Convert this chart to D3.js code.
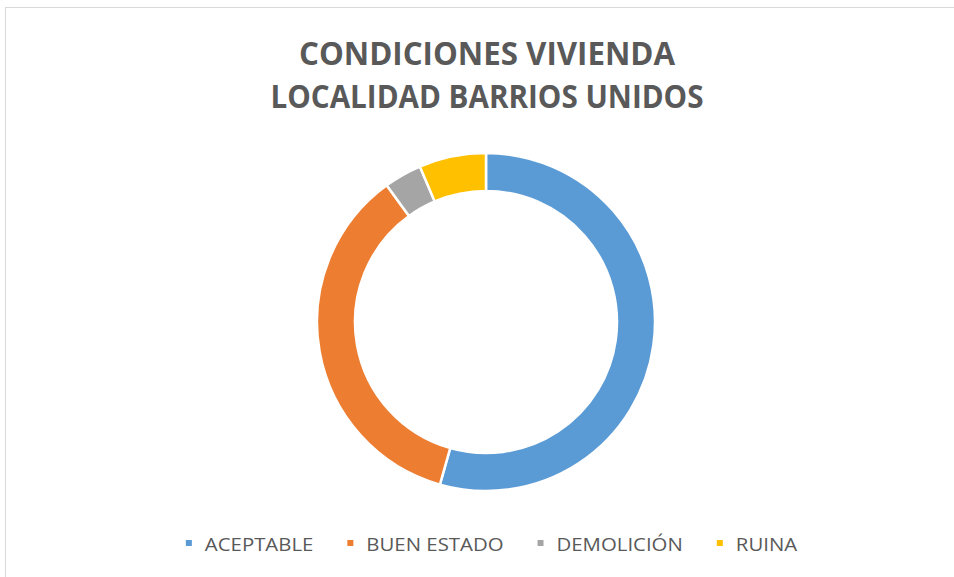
<!DOCTYPE html>
<html>
<head>
<meta charset="utf-8">
<script src="https://cdn.jsdelivr.net/npm/d3@7"></script>
<style>
  body { margin: 0; background: #fff; }
  svg { display: block; }
</style>
</head>
<body>
<div id="chart"></div>
<script>
// values (share of dwellings, %)
const categories = ['ACEPTABLE', 'BUEN ESTADO', 'DEMOLICIÓN', 'RUINA'];
const values = [54.4, 35.6, 3.6, 6.4];
const colors = ['#5B9BD5', '#ED7D31', '#A5A5A5', '#FFC000'];
const titleLines = ['CONDICIONES VIVIENDA', 'LOCALIDAD BARRIOS UNIDOS'];

const width = 954, height = 577;
const cx = 486, cy = 322;
const outerR = 169, innerR = 131;

const svg = d3.select('#chart')
    .append('svg')
    .attr('width', width)
    .attr('height', height);

// chart-area border
svg.append('rect')
    .attr('x', 5.5)
    .attr('y', 7.5)
    .attr('width', width)
    .attr('height', height)
    .attr('fill', 'none')
    .attr('stroke', '#d9d9d9')
    .attr('stroke-width', 1);

// title: Open Sans is wider than Calibri, so squeeze it to the original widths
const titleWidths = [376, 433];
const titleBase = [65, 108];
titleLines.forEach(function(t, i) {
    svg.append('text')
        .attr('x', 487)
        .attr('y', titleBase[i])
        .attr('text-anchor', 'middle')
        .attr('font-family', 'Open Sans, sans-serif')
        .attr('font-weight', 'bold')
        .attr('font-size', 32.5)
        .attr('fill', '#595959')
        .attr('textLength', titleWidths[i])
        .attr('lengthAdjust', 'spacingAndGlyphs')
        .text(t);
});

const pie = d3.pie().sort(null).value(function(d) { return d; });
const arc = d3.arc().innerRadius(innerR).outerRadius(outerR);

svg.append('g')
    .attr('transform', `translate(${cx}, ${cy})`)
    .selectAll('path')
    .data(pie(values))
    .enter()
    .append('path')
    .attr('d', arc)
    .attr('fill', function(d, i) { return colors[i]; })
    .attr('stroke', '#fff')
    .attr('stroke-width', 2.5);

// legend
const legend = svg.append('g');
const items = legend.selectAll('g')
    .data(categories)
    .enter()
    .append('g');

items.append('rect')
    .attr('width', 6)
    .attr('height', 6)
    .attr('y', -3)
    .attr('fill', function(d, i) { return colors[i]; });

items.append('text')
    .attr('x', 19)
    .attr('y', 8)
    .attr('font-family', 'Open Sans, sans-serif')
    .attr('font-size', 18.5)
    .attr('fill', '#595959')
    .text(function(d) { return d; });

// squeeze so ACEPTABLE is ~108px like the original
const squeeze = 108.5 / items.select('text').node().getComputedTextLength();
const gap = 34;
let xPos = 0;
items.each(function() {
    const g = d3.select(this);
    const t = g.select('text');
    const w = t.node().getComputedTextLength() * squeeze;
    t.attr('textLength', w).attr('lengthAdjust', 'spacingAndGlyphs');
    g.attr('transform', `translate(${xPos}, 0)`);
    xPos += 19 + w + gap;
});
const legendW = xPos - gap;
legend.attr('transform', `translate(${491.5 - legendW / 2}, 543)`);
</script>
</body>
</html>
